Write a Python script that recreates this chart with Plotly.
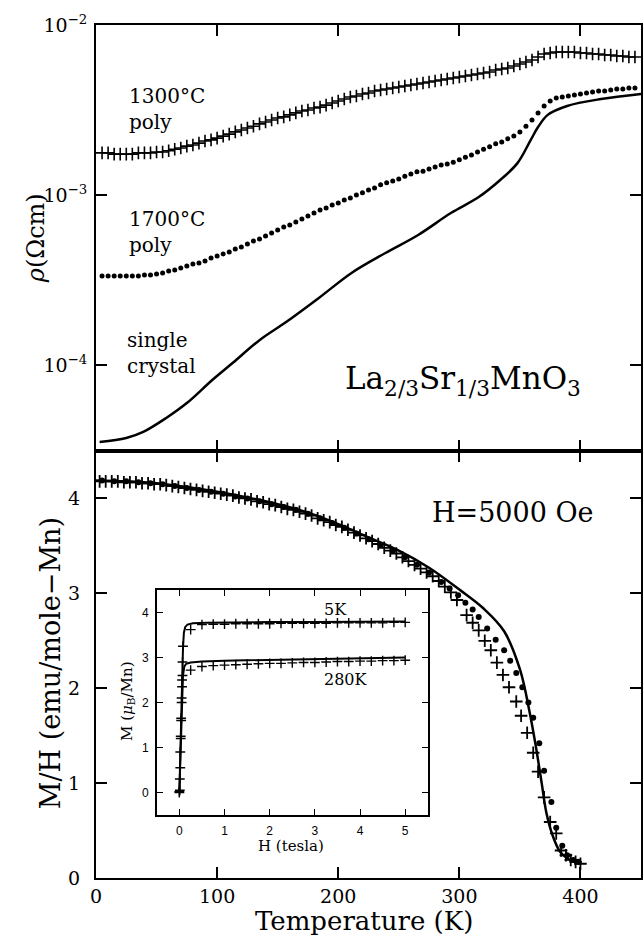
import math
import plotly.graph_objects as go

# ---------------- data: top panel (resistivity, Ohm cm) ----------------
T_grid = list(range(5, 450, 5))  # 5 ... 445 K

rho_1300 = [
    1.77e-3, 1.77e-3, 1.74e-3, 1.74e-3, 1.74e-3, 1.74e-3, 1.77e-3, 1.77e-3, 1.77e-3, 1.79e-3,
    1.79e-3, 1.82e-3, 1.86e-3, 1.89e-3, 1.94e-3, 1.97e-3, 2.02e-3, 2.08e-3, 2.11e-3, 2.16e-3,
    2.22e-3, 2.28e-3, 2.35e-3, 2.41e-3, 2.48e-3, 2.54e-3, 2.62e-3, 2.69e-3, 2.76e-3, 2.84e-3,
    2.88e-3, 2.96e-3, 3.04e-3, 3.12e-3, 3.16e-3, 3.25e-3, 3.29e-3, 3.38e-3, 3.48e-3, 3.57e-3,
    3.67e-3, 3.77e-3, 3.82e-3, 3.93e-3, 3.98e-3, 4.09e-3, 4.15e-3, 4.20e-3, 4.26e-3, 4.32e-3,
    4.38e-3, 4.44e-3, 4.50e-3, 4.56e-3, 4.62e-3, 4.68e-3, 4.75e-3, 4.81e-3, 4.88e-3, 4.94e-3,
    5.01e-3, 5.08e-3, 5.15e-3, 5.22e-3, 5.29e-3, 5.44e-3, 5.51e-3, 5.59e-3, 5.74e-3, 5.90e-3,
    6.06e-3, 6.22e-3, 6.48e-3, 6.75e-3, 6.84e-3, 6.94e-3, 6.94e-3, 6.94e-3, 6.94e-3, 6.84e-3,
    6.84e-3, 6.75e-3, 6.75e-3, 6.66e-3, 6.66e-3, 6.57e-3, 6.57e-3, 6.48e-3, 6.48e-3,
]

rho_1700 = [
    3.34e-4, 3.34e-4, 3.34e-4, 3.34e-4, 3.34e-4, 3.34e-4, 3.34e-4, 3.38e-4, 3.38e-4, 3.43e-4,
    3.48e-4, 3.57e-4, 3.62e-4, 3.72e-4, 3.82e-4, 3.93e-4, 3.98e-4, 4.09e-4, 4.26e-4, 4.38e-4,
    4.50e-4, 4.62e-4, 4.81e-4, 4.94e-4, 5.15e-4, 5.36e-4, 5.51e-4, 5.74e-4, 5.98e-4, 6.22e-4,
    6.48e-4, 6.66e-4, 6.94e-4, 7.23e-4, 7.52e-4, 7.83e-4, 8.16e-4, 8.38e-4, 8.73e-4, 8.97e-4,
    9.35e-4, 9.60e-4, 1.00e-3, 1.03e-3, 1.07e-3, 1.10e-3, 1.15e-3, 1.18e-3, 1.21e-3, 1.24e-3,
    1.29e-3, 1.33e-3, 1.37e-3, 1.38e-3, 1.42e-3, 1.46e-3, 1.50e-3, 1.52e-3, 1.56e-3, 1.61e-3,
    1.67e-3, 1.72e-3, 1.79e-3, 1.86e-3, 1.92e-3, 2.00e-3, 2.05e-3, 2.14e-3, 2.22e-3, 2.35e-3,
    2.54e-3, 2.76e-3, 3.04e-3, 3.34e-3, 3.57e-3, 3.72e-3, 3.77e-3, 3.82e-3, 3.88e-3, 3.93e-3,
    3.98e-3, 4.04e-3, 4.09e-3, 4.09e-3, 4.15e-3, 4.20e-3, 4.20e-3, 4.26e-3, 4.26e-3,
]

T_single = [3, 25, 39, 58, 75, 96, 113, 135, 157, 184, 211, 239, 266, 293, 316, 334,
            348, 359, 365, 373, 389, 417, 450]
rho_single = [3.52e-5, 3.72e-5, 4.04e-5, 4.88e-5, 5.97e-5, 8.16e-5, 1.03e-4, 1.40e-4,
              1.79e-4, 2.48e-4, 3.48e-4, 4.56e-4, 5.82e-4, 7.83e-4, 9.73e-4, 1.23e-3,
              1.54e-3, 2.11e-3, 2.51e-3, 2.96e-3, 3.34e-3, 3.67e-3, 3.93e-3]

# ---------------- data: bottom panel (M/H, emu/mole-Mn) ----------------
T_mh_cross = list(range(3, 296, 5)) + [298, 306, 311, 316, 321, 326, 331, 336, 341, 347,
                                      351, 356, 361, 365, 370, 375, 380, 384, 388, 392, 396, 400]
mh_cross = [
    4.18, 4.18, 4.18, 4.18, 4.17, 4.17, 4.17, 4.16, 4.16, 4.15,
    4.15, 4.14, 4.13, 4.12, 4.11, 4.10, 4.09, 4.08, 4.07, 4.06,
    4.05, 4.04, 4.03, 4.01, 4.00, 3.99, 3.97, 3.96, 3.94, 3.93,
    3.91, 3.89, 3.88, 3.86, 3.84, 3.82, 3.79, 3.77, 3.75, 3.72,
    3.70, 3.67, 3.64, 3.61, 3.58, 3.55, 3.52, 3.48, 3.45, 3.42,
    3.38, 3.34, 3.30, 3.26, 3.22, 3.18, 3.13, 3.07, 3.01,
    2.93, 2.77, 2.69, 2.61, 2.50, 2.40, 2.27, 2.14, 2.01, 1.86,
    1.71, 1.53, 1.32, 1.12, 0.85, 0.59, 0.47, 0.29, 0.24, 0.19, 0.17, 0.15,
]

T_mh_dot = list(range(5, 290, 10)) + [292, 299, 305, 311, 316, 323, 330, 337, 342, 347,
                                     352, 357, 361, 366, 370, 376, 380, 385, 389, 394, 398]
mh_dot = [
    4.19, 4.18, 4.18, 4.17, 4.16, 4.15, 4.13, 4.11, 4.09, 4.07,
    4.05, 4.02, 4.00, 3.97, 3.94, 3.91, 3.88, 3.84, 3.79, 3.74,
    3.69, 3.63, 3.57, 3.51, 3.45, 3.38, 3.30, 3.22, 3.12,
    3.05, 2.98, 2.90, 2.83, 2.75, 2.63, 2.51, 2.40, 2.29, 2.16,
    2.01, 1.85, 1.69, 1.42, 1.13, 0.80, 0.53, 0.34, 0.24, 0.19, 0.17,
]

T_mh_line = [0, 25, 50, 75, 100, 125, 150, 175, 200, 225, 250, 275, 300, 320, 337,
             350, 358, 363, 368, 372, 377, 383, 390, 400]
mh_line = [4.19, 4.18, 4.16, 4.12, 4.07, 4.01, 3.94, 3.85, 3.73, 3.59, 3.45, 3.27, 3.04,
           2.84, 2.60, 2.20, 1.75, 1.40, 1.00, 0.68, 0.45, 0.28, 0.20, 0.15]

# ---------------- data: inset (M in mu_B/Mn vs H in tesla) ----------------
H_5K_line = [0, 0.02, 0.04, 0.06, 0.08, 0.10, 0.13, 0.18, 0.3, 0.6, 1.0, 2.0, 3.0, 4.0, 5.0]
M_5K_line = [0, 0.9, 1.8, 2.6, 3.2, 3.55, 3.68, 3.73, 3.76, 3.77, 3.78, 3.79, 3.79, 3.80, 3.80]
H_280K_line = [0, 0.02, 0.04, 0.06, 0.08, 0.11, 0.15, 0.25, 0.5, 1.0, 2.0, 3.0, 4.0, 5.0]
M_280K_line = [0, 0.7, 1.4, 2.1, 2.6, 2.8, 2.86, 2.89, 2.91, 2.93, 2.95, 2.97, 2.98, 3.0]

H_steps = [0.25, 0.5, 0.75, 1.0, 1.25, 1.5, 1.75, 2.0, 2.25, 2.5,
           2.75, 3.0, 3.25, 3.5, 3.75, 4.0, 4.25, 4.5, 4.75, 5.0]
H_5K_pts = [0, 0.01, 0.02, 0.03, 0.04, 0.05, 0.06, 0.07, 0.08] + H_steps
M_5K_pts = [0.02, 0.3, 0.9, 1.25, 1.65, 2.1, 2.5, 2.9, 3.25,
            3.62, 3.73, 3.74, 3.74, 3.75, 3.75, 3.75, 3.75, 3.76, 3.76,
            3.76, 3.76, 3.76, 3.77, 3.77, 3.77, 3.77, 3.77, 3.78, 3.78]
H_280K_pts = [0, 0.01, 0.02, 0.03, 0.04, 0.05, 0.06, 0.07] + H_steps
M_280K_pts = [0.0, 0.05, 0.55, 1.2, 1.6, 2.0, 2.35, 2.6,
              2.72, 2.80, 2.82, 2.83, 2.84, 2.85, 2.86, 2.87, 2.87, 2.88,
              2.89, 2.89, 2.90, 2.91, 2.91, 2.92, 2.92, 2.93, 2.93, 2.94]

x_ticks = [0, 100, 200, 300, 400]
mh_ticks = [0, 1, 2, 3, 4]
rho_ticks = [1e-4, 1e-3, 1e-2]
rho_ticktext = ["10<sup>−4</sup>", "10<sup>−3</sup>", "10<sup>−2</sup>"]
inset_x_ticks = [0, 1, 2, 3, 4, 5]
inset_y_ticks = [0, 1, 2, 3, 4]

# ---------------- figure ----------------
SERIF = "DejaVu Serif"
SANS = "Liberation Sans"
BLACK = "black"

W, H = 644, 937
ML, MR, MT, MB = 96, 1, 25, 59
PW, PH = W - ML - MR, H - MT - MB


def px(xp):
    return (xp - ML) / PW


def py(yp):
    return (H - MB - yp) / PH


split = py(451)

fig = go.Figure()

cross_top = dict(symbol="cross-thin-open", size=9, color=BLACK, line=dict(color=BLACK, width=1.6))
cross_bot = dict(symbol="cross-thin-open", size=9, color=BLACK, line=dict(color=BLACK, width=1.8))
cross_inset = dict(symbol="cross-thin-open", size=7, color=BLACK, line=dict(color=BLACK, width=1.4))

# top panel
fig.add_trace(go.Scatter(x=T_single, y=rho_single, mode="lines", line=dict(color=BLACK, width=2.5, shape="spline"),
                         xaxis="x2", yaxis="y2", showlegend=False))
fig.add_trace(go.Scatter(x=T_grid, y=rho_1700, mode="markers", marker=dict(symbol="circle", size=5, color=BLACK),
                         xaxis="x2", yaxis="y2", showlegend=False))
fig.add_trace(go.Scatter(x=T_grid, y=rho_1300, mode="markers", marker=cross_top,
                         xaxis="x2", yaxis="y2", showlegend=False))

# bottom panel
fig.add_trace(go.Scatter(x=T_mh_line, y=mh_line, mode="lines", line=dict(color=BLACK, width=2.5, shape="spline"),
                         xaxis="x", yaxis="y", showlegend=False))
fig.add_trace(go.Scatter(x=T_mh_dot, y=mh_dot, mode="markers", marker=dict(symbol="circle", size=6, color=BLACK),
                         xaxis="x", yaxis="y", showlegend=False))
fig.add_trace(go.Scatter(x=T_mh_cross, y=mh_cross, mode="markers", marker=cross_bot,
                         xaxis="x", yaxis="y", showlegend=False))

# inset
for hx, my in ((H_5K_line, M_5K_line), (H_280K_line, M_280K_line)):
    fig.add_trace(go.Scatter(x=hx, y=my, mode="lines", line=dict(color=BLACK, width=2),
                             xaxis="x3", yaxis="y3", showlegend=False))
for hx, my in ((H_5K_pts, M_5K_pts), (H_280K_pts, M_280K_pts)):
    fig.add_trace(go.Scatter(x=hx, y=my, mode="markers", marker=cross_inset,
                             xaxis="x3", yaxis="y3", showlegend=False))

axis_common = dict(showline=True, linecolor=BLACK, linewidth=2, mirror="allticks", ticks="inside",
                   ticklen=11, tickwidth=1.5, tickcolor=BLACK, showgrid=False, zeroline=False,
                   tickfont=dict(family=SERIF, size=19, color=BLACK))
inset_common = dict(showline=True, linecolor=BLACK, linewidth=1.5, mirror="allticks", ticks="inside",
                    ticklen=6, tickwidth=1.2, tickcolor=BLACK, showgrid=False, zeroline=False,
                    tickfont=dict(family=SANS, size=12, color=BLACK))

fig.update_layout(
    width=W, height=H, margin=dict(l=ML, r=MR, t=MT, b=MB, pad=0),
    paper_bgcolor="white", plot_bgcolor="white", showlegend=False,
    xaxis=dict(axis_common, domain=[0, 1], anchor="y", range=[0, 450], tickvals=x_ticks, ticklabelstandoff=0),
    yaxis=dict(axis_common, domain=[0, split], anchor="x", range=[0, 4.5], tickvals=mh_ticks, ticklabelstandoff=10),
    xaxis2=dict(axis_common, domain=[0, 1], anchor="y2", range=[0, 450], tickvals=x_ticks, showticklabels=False),
    yaxis2=dict(axis_common, domain=[split, 1], anchor="x2", type="log",
                range=[math.log10(3.12e-5), -2], tickvals=rho_ticks, ticktext=rho_ticktext, ticklabelstandoff=3),
    xaxis3=dict(inset_common, domain=[px(157), px(429)], anchor="y3", range=[-0.5, 5.5], tickvals=inset_x_ticks,
                ticklabelstandoff=4),
    yaxis3=dict(inset_common, domain=[py(815), py(590)], anchor="x3", range=[-0.5, 4.5], tickvals=inset_y_ticks,
                ticklabelstandoff=4),
)

ann = []


def add_text(text, x, y, size, xanchor="center", align="center", angle=0, family=SERIF, xref="paper", yref="paper"):
    ann.append(dict(text=text, x=x, y=y, xref=xref, yref=yref, xanchor=xanchor, yanchor="middle",
                    showarrow=False, align=align, textangle=angle,
                    font=dict(family=family, size=size, color=BLACK)))


add_text("1300°C<br>poly", px(127), py(109), 20, xanchor="left", align="left")
add_text("1700°C<br>poly", px(127), py(232), 20, xanchor="left", align="left")
add_text("single<br>crystal", px(125), py(353), 20, xanchor="left", align="left")
add_text("La<sub>2/3</sub>Sr<sub>1/3</sub>MnO<sub>3</sub>", px(464), py(380), 31)
add_text("H=5000 Oe", px(515), py(512), 27)
add_text("Temperature (K)", px(365), py(921), 26)
add_text("<i>ρ</i>(Ωcm)", px(36), py(238), 24, angle=-90)
add_text("M/H (emu/mole−Mn)", px(50), py(663), 27, angle=-90)
add_text("H (tesla)", px(292), py(846), 15)
add_text("M (<i>μ</i><sub>B</sub>/Mn)", px(127), py(701), 15, angle=-90)
add_text("5K", 3.46, 4.07, 16, xref="x3", yref="y3")
add_text("280K", 3.70, 2.51, 16, xref="x3", yref="y3")

fig.update_layout(annotations=ann)

fig.write_html("out.html")
